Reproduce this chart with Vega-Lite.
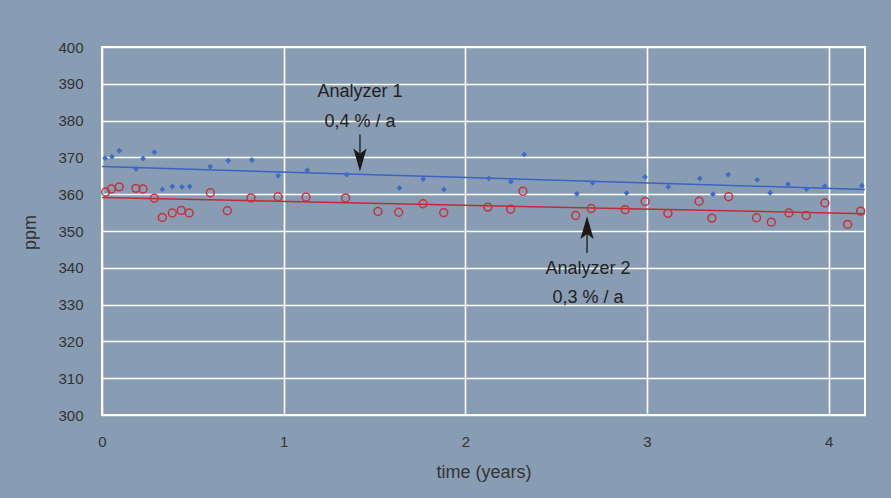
{
  "$schema": "https://vega.github.io/schema/vega-lite/v6.json",
  "width": 763,
  "height": 368,
  "autosize": {"type": "none"},
  "padding": {"left": 102, "top": 47, "right": 26, "bottom": 83},
  "background": "#889DB3",
  "config": {
    "font": "Liberation Sans",
    "view": {"stroke": "#FFFFFF", "strokeWidth": 2},
    "axis": {
      "gridColor": "#FFFFFF",
      "gridWidth": 1.6,
      "gridOpacity": 1,
      "domain": false,
      "ticks": false,
      "labelColor": "#333333",
      "labelFontSize": 15,
      "titleColor": "#333333",
      "titleFontSize": 18,
      "titleFontWeight": "normal"
    }
  },
  "datasets": {
    "pts": [
      {"t": 0.017, "ppm": 369.8, "analyzer": "Analyzer 1"},
      {"t": 0.055, "ppm": 370.2, "analyzer": "Analyzer 1"},
      {"t": 0.095, "ppm": 371.8, "analyzer": "Analyzer 1"},
      {"t": 0.187, "ppm": 366.9, "analyzer": "Analyzer 1"},
      {"t": 0.226, "ppm": 369.7, "analyzer": "Analyzer 1"},
      {"t": 0.288, "ppm": 371.4, "analyzer": "Analyzer 1"},
      {"t": 0.332, "ppm": 361.3, "analyzer": "Analyzer 1"},
      {"t": 0.387, "ppm": 362.1, "analyzer": "Analyzer 1"},
      {"t": 0.440, "ppm": 362.0, "analyzer": "Analyzer 1"},
      {"t": 0.483, "ppm": 362.1, "analyzer": "Analyzer 1"},
      {"t": 0.596, "ppm": 367.5, "analyzer": "Analyzer 1"},
      {"t": 0.695, "ppm": 369.1, "analyzer": "Analyzer 1"},
      {"t": 0.825, "ppm": 369.3, "analyzer": "Analyzer 1"},
      {"t": 0.970, "ppm": 365.0, "analyzer": "Analyzer 1"},
      {"t": 1.130, "ppm": 366.5, "analyzer": "Analyzer 1"},
      {"t": 1.347, "ppm": 365.3, "analyzer": "Analyzer 1"},
      {"t": 1.638, "ppm": 361.7, "analyzer": "Analyzer 1"},
      {"t": 1.768, "ppm": 364.1, "analyzer": "Analyzer 1"},
      {"t": 1.882, "ppm": 361.3, "analyzer": "Analyzer 1"},
      {"t": 2.130, "ppm": 364.3, "analyzer": "Analyzer 1"},
      {"t": 2.251, "ppm": 363.4, "analyzer": "Analyzer 1"},
      {"t": 2.324, "ppm": 370.8, "analyzer": "Analyzer 1"},
      {"t": 2.614, "ppm": 360.1, "analyzer": "Analyzer 1"},
      {"t": 2.701, "ppm": 363.1, "analyzer": "Analyzer 1"},
      {"t": 2.888, "ppm": 360.3, "analyzer": "Analyzer 1"},
      {"t": 2.989, "ppm": 364.7, "analyzer": "Analyzer 1"},
      {"t": 3.117, "ppm": 362.0, "analyzer": "Analyzer 1"},
      {"t": 3.291, "ppm": 364.3, "analyzer": "Analyzer 1"},
      {"t": 3.363, "ppm": 360.0, "analyzer": "Analyzer 1"},
      {"t": 3.447, "ppm": 365.3, "analyzer": "Analyzer 1"},
      {"t": 3.607, "ppm": 363.9, "analyzer": "Analyzer 1"},
      {"t": 3.678, "ppm": 360.4, "analyzer": "Analyzer 1"},
      {"t": 3.777, "ppm": 362.7, "analyzer": "Analyzer 1"},
      {"t": 3.878, "ppm": 361.4, "analyzer": "Analyzer 1"},
      {"t": 3.979, "ppm": 362.2, "analyzer": "Analyzer 1"},
      {"t": 4.183, "ppm": 362.3, "analyzer": "Analyzer 1"},
      {"t": 0.020, "ppm": 360.6, "analyzer": "Analyzer 2"},
      {"t": 0.051, "ppm": 361.4, "analyzer": "Analyzer 2"},
      {"t": 0.095, "ppm": 362.0, "analyzer": "Analyzer 2"},
      {"t": 0.187, "ppm": 361.6, "analyzer": "Analyzer 2"},
      {"t": 0.226, "ppm": 361.4, "analyzer": "Analyzer 2"},
      {"t": 0.288, "ppm": 358.9, "analyzer": "Analyzer 2"},
      {"t": 0.332, "ppm": 353.7, "analyzer": "Analyzer 2"},
      {"t": 0.387, "ppm": 354.9, "analyzer": "Analyzer 2"},
      {"t": 0.436, "ppm": 355.6, "analyzer": "Analyzer 2"},
      {"t": 0.480, "ppm": 354.9, "analyzer": "Analyzer 2"},
      {"t": 0.596, "ppm": 360.4, "analyzer": "Analyzer 2"},
      {"t": 0.690, "ppm": 355.5, "analyzer": "Analyzer 2"},
      {"t": 0.820, "ppm": 359.0, "analyzer": "Analyzer 2"},
      {"t": 0.969, "ppm": 359.3, "analyzer": "Analyzer 2"},
      {"t": 1.123, "ppm": 359.2, "analyzer": "Analyzer 2"},
      {"t": 1.341, "ppm": 359.0, "analyzer": "Analyzer 2"},
      {"t": 1.519, "ppm": 355.3, "analyzer": "Analyzer 2"},
      {"t": 1.633, "ppm": 355.1, "analyzer": "Analyzer 2"},
      {"t": 1.767, "ppm": 357.4, "analyzer": "Analyzer 2"},
      {"t": 1.881, "ppm": 355.0, "analyzer": "Analyzer 2"},
      {"t": 2.124, "ppm": 356.5, "analyzer": "Analyzer 2"},
      {"t": 2.249, "ppm": 355.9, "analyzer": "Analyzer 2"},
      {"t": 2.317, "ppm": 360.8, "analyzer": "Analyzer 2"},
      {"t": 2.607, "ppm": 354.2, "analyzer": "Analyzer 2"},
      {"t": 2.693, "ppm": 356.1, "analyzer": "Analyzer 2"},
      {"t": 2.880, "ppm": 355.8, "analyzer": "Analyzer 2"},
      {"t": 2.990, "ppm": 358.0, "analyzer": "Analyzer 2"},
      {"t": 3.115, "ppm": 354.8, "analyzer": "Analyzer 2"},
      {"t": 3.287, "ppm": 358.1, "analyzer": "Analyzer 2"},
      {"t": 3.357, "ppm": 353.5, "analyzer": "Analyzer 2"},
      {"t": 3.449, "ppm": 359.3, "analyzer": "Analyzer 2"},
      {"t": 3.603, "ppm": 353.6, "analyzer": "Analyzer 2"},
      {"t": 3.684, "ppm": 352.4, "analyzer": "Analyzer 2"},
      {"t": 3.781, "ppm": 354.9, "analyzer": "Analyzer 2"},
      {"t": 3.876, "ppm": 354.2, "analyzer": "Analyzer 2"},
      {"t": 3.979, "ppm": 357.6, "analyzer": "Analyzer 2"},
      {"t": 4.104, "ppm": 351.8, "analyzer": "Analyzer 2"},
      {"t": 4.176, "ppm": 355.4, "analyzer": "Analyzer 2"}
    ],
    "trend": [
      {"t": 0, "ppm": 367.5, "analyzer": "Analyzer 1"},
      {"t": 4.2, "ppm": 361.3, "analyzer": "Analyzer 1"},
      {"t": 0, "ppm": 359.1, "analyzer": "Analyzer 2"},
      {"t": 4.2, "ppm": 354.7, "analyzer": "Analyzer 2"}
    ],
    "arrows": [
      {"t": 1.42, "from": 376.2, "to": 369.5, "head": 369.3, "dir": "down"},
      {"t": 2.67, "from": 344.0, "to": 350.7, "head": 350.9, "dir": "up"}
    ],
    "labels": [
      {"t": 1.42, "ppm": 387.7, "text": "Analyzer 1"},
      {"t": 1.42, "ppm": 379.6, "text": "0,4 % / a"},
      {"t": 2.675, "ppm": 339.6, "text": "Analyzer 2"},
      {"t": 2.675, "ppm": 331.9, "text": "0,3 % / a"}
    ]
  },
  "encoding": {
    "x": {
      "field": "t",
      "type": "quantitative",
      "scale": {"domain": [0, 4.2], "nice": false, "zero": false},
      "axis": {
        "title": "time (years)",
        "values": [0, 1, 2, 3, 4],
        "labelPadding": 19,
        "titlePadding": 14,
        "labelFlush": false
      }
    },
    "y": {
      "field": "ppm",
      "type": "quantitative",
      "scale": {"domain": [300, 400], "nice": false, "zero": false},
      "axis": {
        "title": "ppm",
        "values": [300, 310, 320, 330, 340, 350, 360, 370, 380, 390, 400],
        "labelPadding": 19,
        "titleX": -72,
        "titleY": 185,
        "titleAngle": -90,
        "titleAlign": "center",
        "titleBaseline": "middle"
      }
    }
  },
  "layer": [
    {
      "data": {"name": "trend"},
      "mark": {"type": "line", "strokeWidth": 1.5},
      "encoding": {
        "detail": {"field": "analyzer"},
        "color": {
          "field": "analyzer",
          "type": "nominal",
          "scale": {"domain": ["Analyzer 1", "Analyzer 2"], "range": ["#3A63C2", "#C42A36"]},
          "legend": null
        }
      }
    },
    {
      "data": {"name": "pts"},
      "transform": [{"filter": "datum.analyzer === 'Analyzer 1'"}],
      "mark": {"type": "point", "shape": "diamond", "filled": true, "size": 34, "color": "#3E6CC6", "opacity": 1}
    },
    {
      "data": {"name": "pts"},
      "transform": [{"filter": "datum.analyzer === 'Analyzer 2'"}],
      "mark": {"type": "point", "shape": "circle", "filled": false, "size": 62, "strokeWidth": 1.5, "color": "#C8303C", "opacity": 1}
    },
    {
      "data": {"name": "arrows"},
      "mark": {"type": "rule", "color": "#1A1A1A", "strokeWidth": 1.3},
      "encoding": {
        "y": {"field": "from", "type": "quantitative"},
        "y2": {"field": "to"}
      }
    },
    {
      "data": {"name": "arrows"},
      "mark": {"type": "point", "filled": true, "color": "#1A1A1A", "opacity": 1, "size": 520, "strokeWidth": 0},
      "encoding": {
        "y": {"field": "head", "type": "quantitative"},
        "shape": {
          "field": "dir",
          "type": "nominal",
          "scale": {"domain": ["down", "up"], "range": ["M0,1L-0.58,-1L0,-0.55L0.58,-1Z", "M0,-1L-0.58,1L0,0.55L0.58,1Z"]},
          "legend": null
        }
      }
    },
    {
      "data": {"name": "labels"},
      "mark": {"type": "text", "fontSize": 18, "color": "#222222", "align": "center", "baseline": "middle"},
      "encoding": {
        "y": {"field": "ppm", "type": "quantitative"},
        "text": {"field": "text"}
      }
    }
  ]
}
